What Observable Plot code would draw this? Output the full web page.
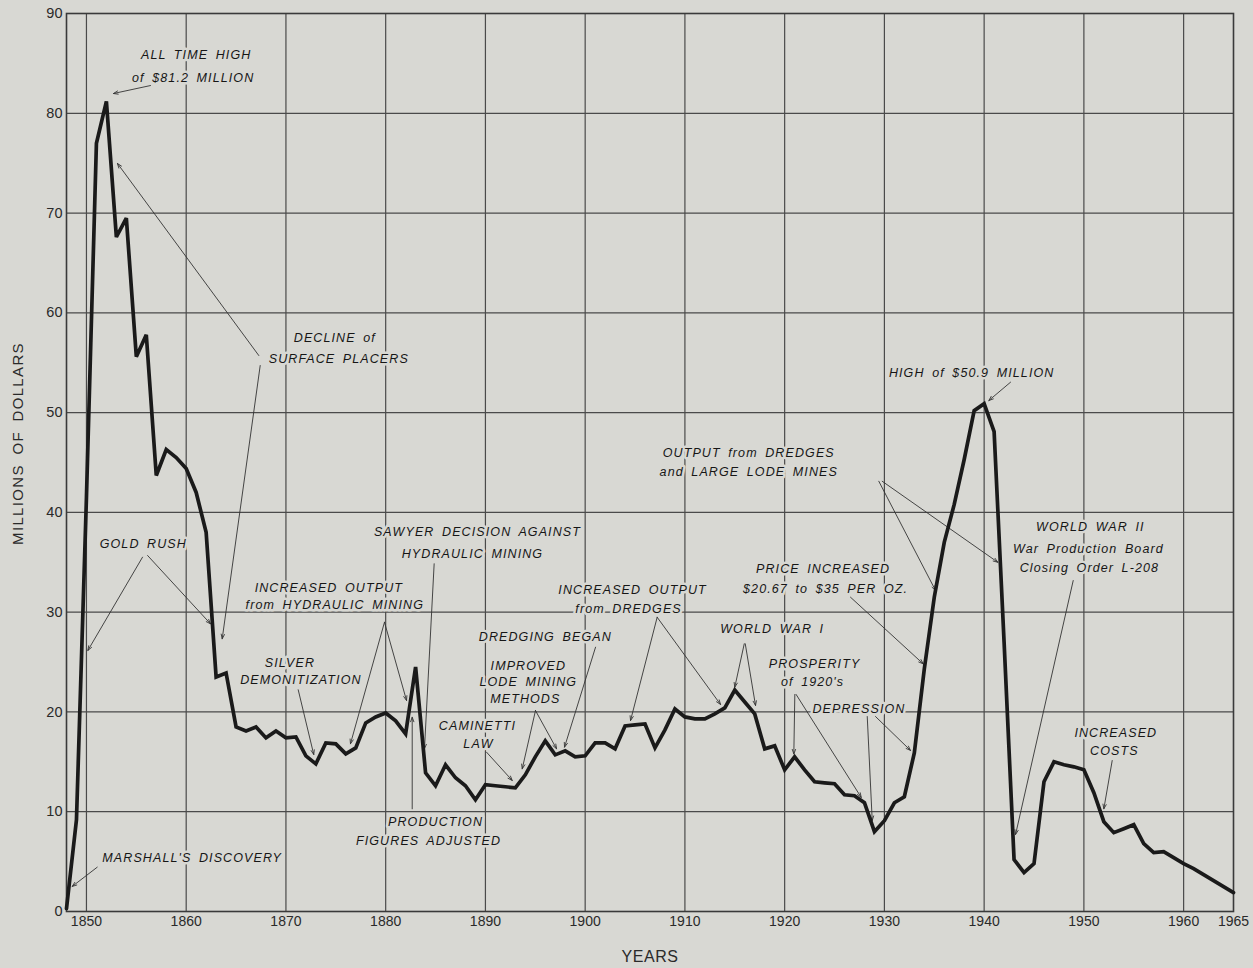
<!DOCTYPE html>
<html>
<head>
<meta charset="utf-8">
<script src="https://cdn.jsdelivr.net/npm/d3@7"></script>
<script src="https://cdn.jsdelivr.net/npm/@observablehq/plot@0.6"></script>
<style>
  html, body { margin: 0; padding: 0; background: #d8d8d3; }
  #chart { width: 1253px; height: 968px; }
  g[aria-description="annotations"] text { letter-spacing: 1.1px; word-spacing: 3px; }
  g[aria-description="axis-title-x"] text { letter-spacing: 0.6px; }
  g[aria-description="axis-title-y"] text { letter-spacing: 1.35px; word-spacing: 4px; }
</style>
</head>
<body>
<div id="chart"></div>
<script>
// California gold production, millions of dollars
const years = [
  1848, 1849, 1850, 1851, 1852, 1853, 1854, 1855, 1856, 1857, 1858, 1859,
  1860, 1861, 1862, 1863, 1864, 1865, 1866, 1867, 1868, 1869,
  1870, 1871, 1872, 1873, 1874, 1875, 1876, 1877, 1878, 1879,
  1880, 1881, 1882, 1883, 1884, 1885, 1886, 1887, 1888, 1889,
  1890, 1891, 1892, 1893, 1894, 1895, 1896, 1897, 1898, 1899,
  1900, 1901, 1902, 1903, 1904, 1905, 1906, 1907, 1908, 1909,
  1910, 1911, 1912, 1913, 1914, 1915, 1916, 1917, 1918, 1919,
  1920, 1921, 1922, 1923, 1924, 1925, 1926, 1927, 1928, 1929,
  1930, 1931, 1932, 1933, 1934, 1935, 1936, 1937, 1938, 1939,
  1940, 1941, 1942, 1943, 1944, 1945, 1946, 1947, 1948, 1949,
  1950, 1951, 1952, 1953, 1954, 1955, 1956, 1957, 1958, 1959,
  1960, 1961, 1962, 1963, 1964, 1965
];
const millions = [
  0.3, 9.2, 41.5, 77.0, 81.2, 67.6, 69.5, 55.6, 57.8, 43.7, 46.3, 45.5,
  44.4, 42.0, 38.0, 23.5, 23.9, 18.5, 18.1, 18.5, 17.4, 18.1,
  17.4, 17.5, 15.6, 14.8, 16.9, 16.8, 15.8, 16.4, 18.9, 19.5,
  19.9, 19.1, 17.8, 24.5, 13.9, 12.6, 14.7, 13.4, 12.6, 11.2,
  12.7, 12.6, 12.5, 12.4, 13.7, 15.5, 17.1, 15.7, 16.1, 15.5,
  15.6, 16.9, 16.9, 16.3, 18.6, 18.7, 18.8, 16.4, 18.2, 20.3,
  19.5, 19.3, 19.3, 19.8, 20.4, 22.2, 21.0, 19.8, 16.3, 16.6,
  14.2, 15.5, 14.2, 13.0, 12.9, 12.8, 11.7, 11.6, 10.9, 8.0,
  9.1, 10.9, 11.5, 15.9, 24.3, 31.5, 37.0, 40.8, 45.3, 50.2,
  50.9, 48.1, 27.0, 5.2, 3.9, 4.8, 13.0, 15.0, 14.7, 14.5,
  14.2, 11.9, 9.0, 7.9, 8.3, 8.7, 6.8, 5.9, 6.0, 5.4,
  4.8, 4.3, 3.7, 3.1, 2.5, 1.9
];

// axes
const xTickYears = [1850, 1860, 1870, 1880, 1890, 1900, 1910, 1920, 1930, 1940, 1950, 1960, 1965];
const xGridYears = [1850, 1860, 1870, 1880, 1890, 1900, 1910, 1920, 1930, 1940, 1950, 1960];
const yTicks = [0, 10, 20, 30, 40, 50, 60, 70, 80, 90];
const yGrid = [10, 20, 30, 40, 50, 60, 70, 80];
const xTitle = "YEARS";
const yTitle = "MILLIONS OF DOLLARS";

// annotation texts (placed in data units: year, millions)
const noteText = [
  "ALL TIME HIGH", "of $81.2 MILLION",
  "DECLINE of", "SURFACE PLACERS",
  "GOLD RUSH",
  "INCREASED OUTPUT", "from HYDRAULIC MINING",
  "SILVER", "DEMONITIZATION",
  "MARSHALL'S DISCOVERY",
  "SAWYER DECISION AGAINST", "HYDRAULIC MINING",
  "PRODUCTION", "FIGURES ADJUSTED",
  "CAMINETTI", "LAW",
  "IMPROVED", "LODE MINING", "METHODS",
  "DREDGING BEGAN",
  "INCREASED OUTPUT", "from DREDGES",
  "WORLD WAR I",
  "PRICE INCREASED", "$20.67 to $35 PER OZ.",
  "PROSPERITY", "of 1920's",
  "DEPRESSION",
  "HIGH of $50.9 MILLION",
  "OUTPUT from DREDGES", "and LARGE LODE MINES",
  "WORLD WAR II", "War Production Board", "Closing Order L-208",
  "INCREASED", "COSTS"
];
const noteYear = [
  1861.0, 1860.7,
  1874.9, 1875.3,
  1855.7,
  1874.3, 1874.9,
  1870.4, 1871.5,
  1860.6,
  1889.2, 1888.7,
  1885.0, 1884.3,
  1889.2, 1889.3,
  1894.3, 1894.3, 1894.0,
  1896.0,
  1904.75, 1904.35,
  1918.75,
  1923.85, 1924.1,
  1923.0, 1922.8,
  1927.45,
  1938.75,
  1916.4, 1916.4,
  1950.65, 1950.45, 1950.55,
  1953.2, 1953.05
];
const noteValue = [
  85.8, 83.5,
  57.5, 55.4,
  36.85,
  32.4, 30.7,
  24.9, 23.25,
  5.4,
  38.0, 35.85,
  8.95, 7.1,
  18.55, 16.8,
  24.65, 23.0, 21.3,
  27.5,
  32.2, 30.35,
  28.3,
  34.35, 32.35,
  24.8, 23.05,
  20.3,
  53.95,
  46.0, 44.0,
  38.5, 36.3, 34.45,
  17.9, 16.05
];
const noteLeftAligned = ["OUTPUT from DREDGES", "and LARGE LODE MINES"];

// pointer arrows: from (year, millions) to (year, millions)
const arrowFromYear = [1856.42, 1867.28, 1867.42, 1855.62, 1856.13, 1879.88, 1879.88, 1871.23, 1851.08,
  1884.86, 1882.66, 1890.11, 1895.02, 1895.02, 1901.04, 1907.22, 1907.22, 1915.95, 1916.05,
  1926.6, 1921.02, 1921.15, 1928.28, 1929.11, 1942.65, 1929.44, 1929.78, 1948.93, 1952.84];
const arrowFromValue = [82.78, 55.72, 54.72, 35.51, 35.68, 28.99, 28.99, 22.22, 4.44,
  34.85, 10.29, 15.97, 20.14, 20.14, 26.49, 29.49, 29.49, 26.83, 26.83,
  31.5, 21.75, 21.75, 19.54, 19.54, 53.05, 43.12, 43.12, 33.17, 15.13];
const arrowToYear = [1852.71, 1853.11, 1863.61, 1850.14, 1862.44, 1876.47, 1882.09, 1872.79, 1848.57,
  1883.89, 1882.66, 1892.69, 1893.69, 1897.13, 1897.93, 1904.55, 1913.57, 1915.0, 1917.08,
  1933.89, 1920.92, 1927.68, 1928.78, 1932.62, 1940.47, 1935.13, 1941.37, 1943.15, 1952.0];
const arrowToValue = [81.98, 74.97, 27.33, 26.16, 28.83, 16.81, 21.15, 15.73, 2.51,
  16.31, 19.47, 13.13, 14.30, 16.31, 16.47, 19.14, 20.75, 22.48, 20.65,
  24.82, 15.79, 11.43, 9.12, 16.14, 51.21, 32.17, 35.0, 7.72, 10.29];

// build tables for the library
const series = years.map((y, i) => ({year: y, value: millions[i]}));
const notes = noteText.map((t, i) => ({text: t, year: noteYear[i], value: noteValue[i]}));
const arrows = arrowFromYear.map((x, i) => ({x1: x, y1: arrowFromValue[i], x2: arrowToYear[i], y2: arrowToValue[i]}));

const bg = "#d8d8d3";
const ink = "#1a1a1a";
const gridInk = "#4a4a4a";
const annFont = "'Liberation Sans', Arial, sans-serif";

const chart = Plot.plot({
  width: 1253,
  height: 968,
  marginLeft: 66,
  marginRight: 20,
  marginTop: 13,
  marginBottom: 57,
  style: {background: bg, fontFamily: "'Liberation Sans', Arial, sans-serif", fontSize: "14px", color: "#2a2a2a"},
  x: {domain: [1848, 1965]},
  y: {domain: [0, 90]},
  marks: [
    Plot.ruleX(xGridYears, {stroke: gridInk, strokeWidth: 1.2}),
    Plot.ruleY(yGrid, {stroke: gridInk, strokeWidth: 1.2}),
    Plot.frame({stroke: "#3a3a3a", strokeWidth: 1.6}),
    Plot.axisX({ticks: xTickYears, tickFormat: d => String(d), tickSize: 0, tickPadding: 5, label: null, fontSize: 14}),
    Plot.axisY({ticks: yTicks, tickSize: 0, tickPadding: 4, label: null, fontSize: 14.5}),
    Plot.text(notes, {
      x: "year", y: "value", text: "text",
      textAnchor: d => noteLeftAligned.includes(d.text) ? "start" : "middle",
      fontFamily: annFont, fontStyle: "italic", fontSize: 12.5, fill: "#161616",
      stroke: bg, strokeWidth: 5,
      ariaDescription: "annotations"
    }),
    Plot.arrow(arrows, {
      x1: "x1", y1: "y1", x2: "x2", y2: "y2",
      stroke: "#333", strokeWidth: 0.9, headLength: 8, headAngle: 40
    }),
    Plot.line(series, {
      x: "year", y: "value", stroke: ink, strokeWidth: 3.7,
      strokeLinejoin: "miter", strokeMiterlimit: 3
    }),
    Plot.text([xTitle], {frameAnchor: "bottom", lineAnchor: "middle", dy: 45, fontSize: 16, fill: "#2a2a2a", ariaDescription: "axis-title-x"}),
    Plot.text([yTitle], {frameAnchor: "left", textAnchor: "middle", lineAnchor: "middle", dx: -48, dy: -19, rotate: -90, fontSize: 15, fill: "#2a2a2a", ariaDescription: "axis-title-y"})
  ]
});
document.getElementById("chart").appendChild(chart);
</script>
</body>
</html>
